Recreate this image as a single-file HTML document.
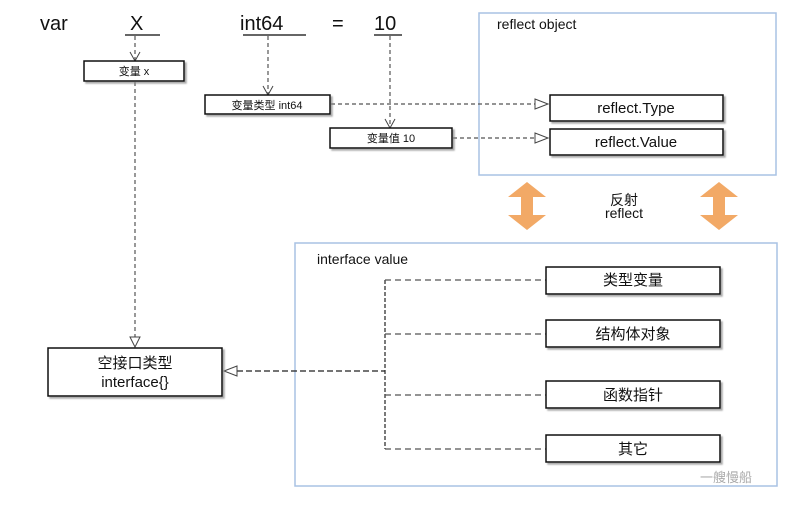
<!DOCTYPE html>
<html><head><meta charset="utf-8"><style>
body{margin:0;background:#fff;}
svg text{font-family:"Liberation Sans","Noto Sans CJK SC",sans-serif;fill:#111;}
</style></head><body>
<svg width="800" height="500" viewBox="0 0 800 500" xmlns="http://www.w3.org/2000/svg">
<defs><filter id="sh"><feDropShadow dx="2" dy="2" stdDeviation="0.8" flood-color="#888" flood-opacity="0.7"/></filter></defs>
<!-- frames -->
<rect x="479" y="13" width="297" height="162" fill="none" stroke="#a9c2e4" stroke-width="1.5"/>
<rect x="295" y="243" width="482" height="243" fill="none" stroke="#a9c2e4" stroke-width="1.5"/>
<text x="497" y="29" font-size="14">reflect object</text>
<text x="317" y="264" font-size="14">interface value</text>
<!-- top text -->
<text x="40" y="30" font-size="20">var</text>
<text x="130" y="30" font-size="20">X</text>
<text x="240" y="30" font-size="20">int64</text>
<text x="332" y="30" font-size="20">=</text>
<text x="374" y="30" font-size="20">10</text>
<g stroke="#333" stroke-width="1.5">
<line x1="125" y1="35" x2="160" y2="35"/><line x1="243" y1="35" x2="306" y2="35"/><line x1="374" y1="35" x2="402" y2="35"/>
</g>
<g stroke="#555" stroke-width="1.2" stroke-dasharray="4,3" fill="none">
<line x1="135" y1="36" x2="135" y2="60"/>
<line x1="135" y1="82" x2="135" y2="337"/>
<line x1="268" y1="36" x2="268" y2="94"/>
<line x1="390" y1="36" x2="390" y2="127"/>
<line x1="331" y1="104" x2="535" y2="104"/>
<line x1="453" y1="138" x2="535" y2="138"/>
<line x1="237" y1="371" x2="385" y2="371" stroke="#222" stroke-dasharray="6,3"/>
<line x1="385" y1="280" x2="385" y2="449" stroke="#222" stroke-dasharray="4,2"/>
<line x1="385" y1="280" x2="546" y2="280" stroke-dasharray="6,4"/>
<line x1="385" y1="334" x2="546" y2="334" stroke-dasharray="6,4"/>
<line x1="385" y1="395" x2="546" y2="395" stroke-dasharray="6,4"/>
<line x1="385" y1="449" x2="546" y2="449" stroke-dasharray="6,4"/>
</g>
<g stroke="#444" stroke-width="1" fill="#fff">
<polyline points="130,52 135,61 140,52" fill="none"/>
<polyline points="263,86 268,95 273,86" fill="none"/>
<polyline points="385,119 390,128 395,119" fill="none"/>
<polygon points="130,337 140,337 135,347"/>
<polygon points="535,99 535,109 548,104"/>
<polygon points="535,133 535,143 548,138"/>
<polygon points="237,366 237,376 224,371"/>
</g>
<!-- boxes -->
<g fill="#fff" stroke="#111" stroke-width="1.5" filter="url(#sh)">
<rect x="84" y="61" width="100" height="20"/>
<rect x="205" y="95" width="125" height="19"/>
<rect x="330" y="128" width="122" height="20"/>
<rect x="550" y="95" width="173" height="26"/>
<rect x="550" y="129" width="173" height="26"/>
<rect x="48" y="348" width="174" height="48"/>
<rect x="546" y="267" width="174" height="27"/>
<rect x="546" y="320" width="174" height="27"/>
<rect x="546" y="381" width="174" height="27"/>
<rect x="546" y="435" width="174" height="27"/>
</g>
<g font-size="11" text-anchor="middle">
<text x="134" y="75">变量 x</text>
<text x="267" y="109">变量类型 int64</text>
<text x="391" y="142">变量值 10</text>
</g>
<g font-size="15" text-anchor="middle">
<text x="636" y="113">reflect.Type</text>
<text x="636" y="147">reflect.Value</text>
<text x="135" y="368">空接口类型</text>
<text x="135" y="387">interface{}</text>
<text x="633" y="285">类型变量</text>
<text x="633" y="339">结构体对象</text>
<text x="633" y="400">函数指针</text>
<text x="633" y="454">其它</text>
<text x="624" y="205" font-size="14">反射</text>
<text x="624" y="218" font-size="14">reflect</text>
</g>
<!-- orange arrows -->
<g fill="#f2a966">
<polygon points="527,182 546,197 533,197 533,215 546,215 527,230 508,215 521,215 521,197 508,197"/>
<polygon points="719,182 738,197 725,197 725,215 738,215 719,230 700,215 713,215 713,197 700,197"/>
</g>
<text x="700" y="482" font-size="13" fill="#bbb" style="fill:#aaa">一艘慢船</text>
</svg>
</body></html>
